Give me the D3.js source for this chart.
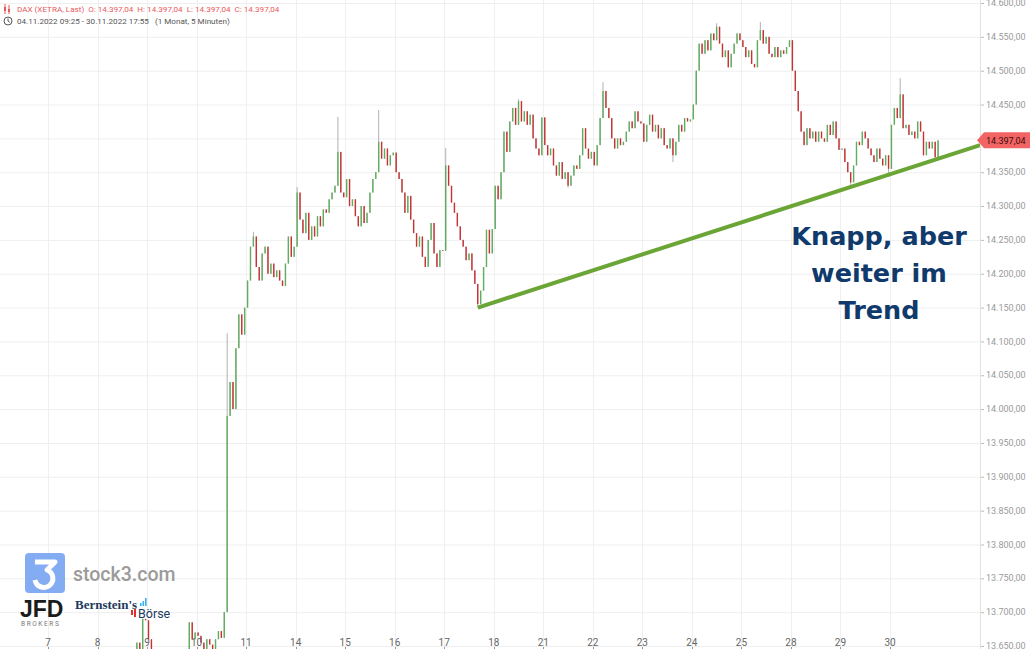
<!DOCTYPE html>
<html><head><meta charset="utf-8">
<script src="https://cdn.jsdelivr.net/npm/d3@7"></script>
<style>
body{margin:0;background:#fff;}
svg{display:block;font-family:Roboto,"Liberation Sans",Arial,sans-serif;}
</style>
</head><body>
<svg id="c" width="1030" height="649"></svg>
<script>
// ---- DATA ----
const dayLabels = ["4","7","8","9","10","11","14","15","16","17","18","21","22","23","24","25","28","29","30"];
const shownDayLabels = ["7","8","9","10","11","14","15","16","17","18","21","22","23","24","25","28","29","30"];
// 30-minute closing prices per trading day (09:00 ... 17:00 slots)
const nov04 = [13300,13270,13250,13280,13310,13290,13330,13350,13320,13300,13360,13400,13420,13440,13430,13450,13459];
const nov07 = [13480,13450,13420,13400,13430,13460,13440,13470,13500,13480,13450,13490,13510,13500,13520,13540,13533];
const nov08 = [13560,13520,13500,13480,13510,13540,13530,13570,13600,13580,13610,13630,13615,13655,13640,13690,13688];
const nov09 = [13660,13640,13620,13600,13590,13610,13600,13580,13570,13590,13600,13620,13610,13645,13685,13660,13670];
const nov10 = [13665,13655,13645,13660,13652,13640,13660,13672,13662,13700,13990,14040,14000,14090,14140,14110,14150];
const nov11 = [14190,14240,14255,14210,14190,14230,14240,14200,14215,14195,14205,14190,14182,14215,14255,14225,14240];
const nov14 = [14320,14280,14260,14290,14250,14270,14255,14285,14270,14295,14290,14310,14320,14330,14380,14320,14313];
const nov15 = [14340,14300,14310,14285,14270,14300,14275,14290,14320,14340,14350,14395,14370,14385,14360,14375,14379];
const nov16 = [14350,14340,14320,14290,14315,14280,14260,14240,14255,14225,14210,14250,14275,14230,14210,14235,14234];
const nov17 = [14360,14330,14305,14290,14270,14250,14240,14220,14230,14205,14185,14155,14175,14210,14265,14230,14266];
const nov18 = [14330,14310,14350,14410,14380,14425,14445,14420,14455,14425,14440,14420,14435,14400,14385,14375,14431];
const nov21 = [14390,14375,14385,14360,14345,14365,14340,14350,14330,14345,14360,14355,14375,14415,14385,14370,14380];
const nov22 = [14360,14390,14430,14470,14445,14430,14400,14385,14400,14390,14395,14410,14425,14415,14440,14425,14422];
const nov23 = [14395,14420,14435,14410,14420,14400,14415,14390,14385,14400,14375,14395,14420,14410,14430,14425,14428];
const nov24 = [14450,14500,14540,14525,14545,14530,14555,14545,14565,14540,14520,14530,14505,14525,14540,14555,14545];
const nov25 = [14535,14520,14530,14510,14505,14545,14560,14540,14550,14525,14520,14535,14520,14530,14525,14535,14545];
const nov28 = [14500,14470,14440,14410,14390,14415,14400,14410,14395,14410,14400,14395,14420,14405,14425,14400,14383];
const nov29 = [14385,14365,14350,14335,14360,14395,14390,14410,14400,14385,14375,14365,14385,14370,14360,14375,14355];
const nov30 = [14420,14445,14430,14465,14415,14420,14405,14410,14400,14425,14410,14375,14395,14385,14395,14372,14397.04];
const dailyCloses = [nov04,nov07,nov08,nov09,nov10,nov11,nov14,nov15,nov16,nov17,nov18,nov21,nov22,nov23,nov24,nov25,nov28,nov29,nov30];
// notable wick extremes: [day index, slot, price]
const highWicks = [[4,10,14112],[5,2,14262],[6,0,14328],[6,14,14432],[7,11,14442],[9,0,14386],[10,8,14458],[12,3,14483],[14,8,14570],[15,6,14572],[18,3,14489]];
const lowWicks = [[9,11,14150],[11,8,14327],[13,10,14365],[17,3,14331],[17,16,14343]];
const yTickValues = [13650,13700,13750,13800,13850,13900,13950,14000,14050,14100,14150,14200,14250,14300,14350,14400,14450,14500,14550,14600];
// trend line: [day position, price]
const trendPoints = [[9.68,14150],[19.82,14390]];
const lastPrice = 14397.04;
const slotsPerDay = 17;

// ---- CHART ----
const svg = d3.select("#c");
const W = 1030, H = 649, plotRight = 980;
const x = d3.scaleLinear().domain([1, 18]).range([48, 890]);
const y = d3.scaleLinear().domain([13650, 14600]).range([646, 3]);
const de = d3.formatLocale({decimal:",", thousands:".", grouping:[3], currency:["","€"]});
const fmt = de.format(",.2f");

svg.append("defs").append("clipPath").attr("id","plot")
  .append("rect").attr("x",0).attr("y",0).attr("width",plotRight).attr("height",H);

// grid
const grid = svg.append("g");
grid.selectAll("line.h").data(yTickValues).join("line")
  .attr("x1",0).attr("x2",plotRight).attr("y1",d=>y(d)+0.5).attr("y2",d=>y(d)+0.5)
  .attr("stroke","#efefef").attr("stroke-width",1);
grid.selectAll("line.v").data(shownDayLabels).join("line")
  .attr("x1",d=>Math.round(x(dayLabels.indexOf(d)))+0.5).attr("x2",d=>Math.round(x(dayLabels.indexOf(d)))+0.5)
  .attr("y1",0).attr("y2",H).attr("stroke","#efefef").attr("stroke-width",1);

// candles
const candles = [];
let prev = dailyCloses[0][0];
dailyCloses.forEach((arr, d) => arr.forEach((c, k) => {
  const o = prev; prev = c;
  candles.push({d, k, t: d + (k + 0.5) / slotsPerDay, o, c, hi: Math.max(o, c), lo: Math.min(o, c)});
}));
highWicks.forEach(([d,k,p]) => { const cd = candles.find(e => e.d===d && e.k===k); if (cd) cd.hi = Math.max(cd.hi, p); });
lowWicks.forEach(([d,k,p]) => { const cd = candles.find(e => e.d===d && e.k===k); if (cd) cd.lo = Math.min(cd.lo, p); });

const cg = svg.append("g").attr("clip-path","url(#plot)");
cg.selectAll("line.w").data(candles).join("line")
  .attr("x1",d=>x(d.t)).attr("x2",d=>x(d.t))
  .attr("y1",d=>y(d.hi)).attr("y2",d=>y(d.lo))
  .attr("stroke","#909090").attr("stroke-width",0.7);
cg.selectAll("rect.b").data(candles).join("rect")
  .attr("x",d=>x(d.t)-0.7).attr("width",1.4)
  .attr("y",d=>y(Math.max(d.o,d.c)))
  .attr("height",d=>Math.max(0.8, Math.abs(y(d.o)-y(d.c))))
  .attr("fill",d=>d.c>=d.o ? "#5fae5f" : "#c83232");

// trend line
svg.append("line")
  .attr("x1",x(trendPoints[0][0])).attr("y1",y(trendPoints[0][1]))
  .attr("x2",x(trendPoints[1][0])).attr("y2",y(trendPoints[1][1]))
  .attr("stroke","#6aa536").attr("stroke-width",4).attr("stroke-linecap","butt");

// y axis
svg.append("line").attr("x1",plotRight+0.5).attr("x2",plotRight+0.5).attr("y1",0).attr("y2",H)
  .attr("stroke","#e2e2e2");
const ya = svg.append("g");
ya.selectAll("line").data(yTickValues).join("line")
  .attr("x1",plotRight+1).attr("x2",plotRight+4).attr("y1",d=>y(d)+0.5).attr("y2",d=>y(d)+0.5)
  .attr("stroke","#bbb");
ya.selectAll("text").data(yTickValues).join("text")
  .attr("x",986).attr("y",d=>y(d)).attr("dy","0.35em")
  .attr("font-size",9).attr("fill","#9a9a9a").text(d=>fmt(d));

// last price tag
const ly = y(lastPrice);
svg.append("path")
  .attr("d",`M${plotRight-3},${ly} L${plotRight+4},${ly-8} L1030,${ly-8} L1030,${ly+8} L${plotRight+4},${ly+8} Z`)
  .attr("fill","#f26363");
svg.append("text").attr("x",986).attr("y",ly).attr("dy","0.35em")
  .attr("font-size",9).attr("fill","#3a0e0e").text(fmt(lastPrice));

// x axis
const xa = svg.append("g");
xa.selectAll("text").data(shownDayLabels).join("text")
  .attr("x",d=>x(dayLabels.indexOf(d))).attr("y",646).attr("text-anchor","middle")
  .attr("font-size",10).attr("fill","#666").text(d=>d);
xa.selectAll("line").data(shownDayLabels).join("line")
  .attr("x1",d=>Math.round(x(dayLabels.indexOf(d)))+0.5).attr("x2",d=>Math.round(x(dayLabels.indexOf(d)))+0.5)
  .attr("y1",647).attr("y2",649).attr("stroke","#999");

// header
const hd = svg.append("g");
hd.append("line").attr("x1",5).attr("x2",5).attr("y1",4).attr("y2",14).attr("stroke","#e85a5a").attr("stroke-width",1);
hd.append("rect").attr("x",4).attr("y",7).attr("width",2).attr("height",4).attr("fill","#e85a5a");
hd.append("line").attr("x1",9).attr("x2",9).attr("y1",5).attr("y2",14).attr("stroke","#e85a5a").attr("stroke-width",1);
hd.append("rect").attr("x",8).attr("y",9).attr("width",2).attr("height",3).attr("fill","#e85a5a");
hd.append("text").attr("x",17).attr("y",12).attr("font-size",8.1).attr("fill","#e85a5a")
  .attr("xml:space","preserve").style("white-space","pre")
  .text(`DAX (XETRA, Last)  O: ${fmt(lastPrice)}  H: ${fmt(lastPrice)}  L: ${fmt(lastPrice)}  C: ${fmt(lastPrice)}`);
hd.append("circle").attr("cx",8).attr("cy",21).attr("r",4).attr("fill","none").attr("stroke","#555").attr("stroke-width",1);
hd.append("path").attr("d","M8,18.5 V21 L9.8,22.3").attr("fill","none").attr("stroke","#555").attr("stroke-width",1);
hd.append("text").attr("x",17).attr("y",24).attr("font-size",8.1).attr("fill","#555")
  .attr("xml:space","preserve").style("white-space","pre")
  .text("04.11.2022 09:25 - 30.11.2022 17:55   (1 Monat, 5 Minuten)");

// annotation
const ann = svg.append("g").attr("font-family","'DejaVu Sans',sans-serif").attr("font-weight","bold")
  .attr("font-size",25.5).attr("fill","#0f3a6b").attr("text-anchor","middle");
["Knapp, aber","weiter im","Trend"].forEach((t,i)=>{
  ann.append("text").attr("x",879).attr("y",245+i*37).text(t);
});

// logos
const lg = svg.append("g");
lg.append("rect").attr("x",25).attr("y",553).attr("width",40).attr("height",40).attr("rx",4).attr("fill","#6f9df0").attr("opacity",0.85);
lg.append("path").attr("d","M35,562 H55 L47,570 A9,9 0 1 1 35,580")
  .attr("fill","none").attr("stroke","#fff").attr("stroke-width",5).attr("stroke-linejoin","round");
lg.append("text").attr("x",73).attr("y",581).attr("font-size",19.5).attr("font-weight",500).attr("fill","#9b9b9b").text("stock3.com");
lg.append("text").attr("x",20).attr("y",617).attr("font-size",23).attr("font-weight","bold").attr("fill","#1b1b1b")
  .attr("font-family","'Liberation Sans',Arial,sans-serif").text("JFD");
lg.append("text").attr("x",21).attr("y",626).attr("font-size",6.5).attr("fill","#777").attr("letter-spacing",1.6).text("BROKERS");
lg.append("text").attr("x",75).attr("y",609).attr("font-size",13).attr("font-weight","bold").attr("fill","#1c3a5e")
  .attr("font-family","'Liberation Serif',serif").text("Bernstein's");
[[140,603,3],[142.5,601,5],[145,598,8]].forEach(([bx,by,bh])=>{
  lg.append("rect").attr("x",bx).attr("y",by).attr("width",1.6).attr("height",bh).attr("fill","#3ab0f0");
});
lg.append("rect").attr("x",131).attr("y",610).attr("width",2).attr("height",5).attr("fill","#e03030");
lg.append("rect").attr("x",134).attr("y",609).attr("width",2).attr("height",8).attr("fill","#e03030");
lg.append("text").attr("x",138).attr("y",618).attr("font-size",12.5).attr("fill","#1c3a5e").text("Börse");
</script>
</body></html>
